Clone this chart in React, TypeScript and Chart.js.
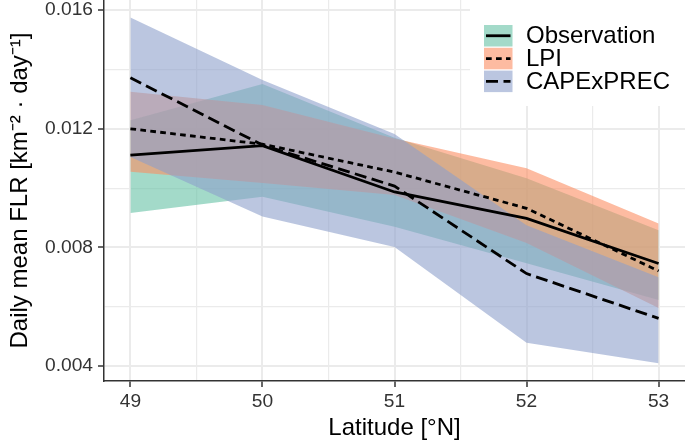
import { useEffect, useRef } from "react";
import { Chart, registerables } from "chart.js";

Chart.register(...registerables);

// ---- data ----
const latitudes = [49, 50, 51, 52, 53];

const obsMean = [0.01111, 0.01143, 0.00987, 0.00898, 0.00746];
const obsUpper = [0.01229, 0.01351, 0.0117, 0.01033, 0.00858];
const obsLower = [0.00916, 0.00971, 0.0087, 0.00747, 0.00623];

const lpiMean = [0.012, 0.01148, 0.01054, 0.00932, 0.00721];
const lpiUpper = [0.01325, 0.0128, 0.01167, 0.01067, 0.00881];
const lpiLower = [0.01055, 0.01017, 0.00977, 0.00815, 0.00596];

const capeMean = [0.01372, 0.01145, 0.01007, 0.00712, 0.00561];
const capeUpper = [0.01575, 0.01364, 0.01182, 0.00875, 0.007];
const capeLower = [0.01105, 0.00904, 0.00802, 0.00479, 0.0041];

const xTickValues = [49, 49.5, 50, 50.5, 51, 51.5, 52, 52.5, 53];
const yTickValues = [0.004, 0.006, 0.008, 0.01, 0.012, 0.014, 0.016];
const legendLabels = ["Observation", "LPI", "CAPExPREC"];

// ---- styles ----
const FONT = "'Liberation Sans', Arial, Helvetica, sans-serif";
const GREEN = "#66C2A5";
const ORANGE = "#FC8D62";
const BLUE = "#8DA0CB";
const BAND_ALPHA = 0.6;
const legendColors = [GREEN, ORANGE, BLUE];
const DOTTED = [5.7, 4.3];
const DASHED = [12, 5.5];
const legendDashes = [[], DOTTED, DASHED];

function rgba(hex: string, a: number) {
  const n = parseInt(hex.slice(1), 16);
  return `rgba(${(n >> 16) & 255},${(n >> 8) & 255},${n & 255},${a})`;
}

const isXMajor = (v: number) => Math.abs(v - Math.round(v)) < 1e-9;
const isYMajor = (v: number) => Math.abs(v / 0.004 - Math.round(v / 0.004)) < 1e-6;

const legendPlugin = {
  id: "ggLegend",
  afterDraw(chart: any) {
    const ctx = chart.ctx;
    ctx.save();
    ctx.fillStyle = "#ffffff";
    ctx.fillRect(470, 0, 215, 106);
    legendLabels.forEach((label, i) => {
      const x = 484;
      const y = 25 + i * 22.8;
      const w = 28.5;
      const h = 21.5;
      ctx.fillStyle = rgba(legendColors[i], BAND_ALPHA);
      ctx.fillRect(x, y, w, h);
      ctx.strokeStyle = "#000";
      ctx.lineWidth = 2.8;
      ctx.lineCap = "butt";
      ctx.setLineDash(legendDashes[i]);
      ctx.beginPath();
      ctx.moveTo(x + 2, y + h / 2);
      ctx.lineTo(x + w - 2, y + h / 2);
      ctx.stroke();
      ctx.setLineDash([]);
      ctx.fillStyle = "#000";
      ctx.font = `24px ${FONT}`;
      ctx.textAlign = "left";
      ctx.textBaseline = "middle";
      ctx.fillText(label, 526, y + h / 2 + 1);
    });
    ctx.restore();
  },
};

export default function App() {
  const ref = useRef<HTMLCanvasElement>(null);

  useEffect(() => {
    if (!ref.current) return;
    const pts = (ys: number[]) => latitudes.map((x, i) => ({ x, y: ys[i] }));
    const band = (name: string, upper: number[], lower: number[], color: string, order: number) => [
      {
        label: name + " upper",
        data: pts(upper),
        fill: "+1",
        backgroundColor: rgba(color, BAND_ALPHA),
        borderColor: "rgba(0,0,0,0)",
        borderWidth: 1,
        pointRadius: 0,
        order,
      },
      {
        label: name + " lower",
        data: pts(lower),
        fill: false,
        backgroundColor: "rgba(0,0,0,0)",
        borderColor: "rgba(0,0,0,0)",
        borderWidth: 1,
        pointRadius: 0,
        order,
      },
    ];
    const line = (name: string, ys: number[], dash: number[]) => ({
      label: name,
      data: pts(ys),
      fill: false,
      borderColor: "#000",
      borderWidth: 2.8,
      borderDash: dash,
      pointRadius: 0,
      order: 0,
    });

    const chart = new Chart(ref.current, {
      type: "line",
      data: {
        datasets: [
          line(legendLabels[0], obsMean, []),
          line(legendLabels[1], lpiMean, DOTTED),
          line(legendLabels[2], capeMean, DASHED),
          ...band(legendLabels[2], capeUpper, capeLower, BLUE, 10),
          ...band(legendLabels[1], lpiUpper, lpiLower, ORANGE, 20),
          ...band(legendLabels[0], obsUpper, obsLower, GREEN, 30),
        ] as any,
      },
      options: {
        responsive: false,
        devicePixelRatio: 1,
        animation: false,
        layout: { padding: 0 },
        plugins: {
          legend: { display: false },
          tooltip: { enabled: false },
        },
        scales: {
          x: {
            type: "linear",
            min: 48.8,
            max: 53.2,
            afterBuildTicks: (s: any) => {
              s.ticks = xTickValues.map((v) => ({ value: v }));
            },
            afterFit: (s: any) => {
              s.height = 62;
              s.paddingLeft = 0;
              s.paddingRight = 0;
            },
            ticks: {
              autoSkip: false,
              maxRotation: 0,
              padding: 3,
              color: "#333333",
              font: { family: FONT, size: 19.2 },
              callback: (v: any) => (isXMajor(Number(v)) ? String(Math.round(Number(v))) : ""),
            },
            grid: {
              color: "#EBEBEB",
              lineWidth: (c: any) => (c.tick && isXMajor(c.tick.value) ? 2 : 1.2),
              tickLength: 6,
              tickWidth: 1.5,
              tickColor: (c: any) => (c.tick && isXMajor(c.tick.value) ? "#333333" : "rgba(0,0,0,0)"),
            },
            border: { color: "#333333", width: 1.5 },
            title: {
              display: true,
              text: "Latitude [°N]",
              color: "#000",
              font: { family: FONT, size: 24 },
              padding: { top: 0, bottom: 0 },
            },
          },
          y: {
            type: "linear",
            min: 0.0035,
            max: 0.01634,
            afterBuildTicks: (s: any) => {
              s.ticks = yTickValues.map((v) => ({ value: v }));
            },
            afterFit: (s: any) => {
              s.width = 104;
              s.paddingTop = 0;
              s.paddingBottom = 0;
            },
            ticks: {
              autoSkip: false,
              padding: 5,
              color: "#333333",
              font: { family: FONT, size: 19.2 },
              callback: (v: any) => (isYMajor(Number(v)) ? Number(v).toFixed(3) : ""),
            },
            grid: {
              color: "#EBEBEB",
              lineWidth: (c: any) => (c.tick && isYMajor(c.tick.value) ? 2 : 1.2),
              tickLength: 6,
              tickWidth: 1.5,
              tickColor: (c: any) => (c.tick && isYMajor(c.tick.value) ? "#333333" : "rgba(0,0,0,0)"),
            },
            border: { color: "#333333", width: 1.5 },
            title: {
              display: true,
              text: "Daily mean FLR [km⁻² · day⁻¹]",
              color: "#000",
              font: { family: FONT, size: 24 },
              padding: { top: 6, bottom: 0 },
            },
          },
        },
      } as any,
      plugins: [legendPlugin],
    });
    return () => chart.destroy();
  }, []);

  return (
    <div style={{ position: "absolute", left: 0, top: 0, width: 685, height: 443, background: "#fff" }}>
      <canvas ref={ref} width={685} height={443} style={{ display: "block" }} />
    </div>
  );
}
